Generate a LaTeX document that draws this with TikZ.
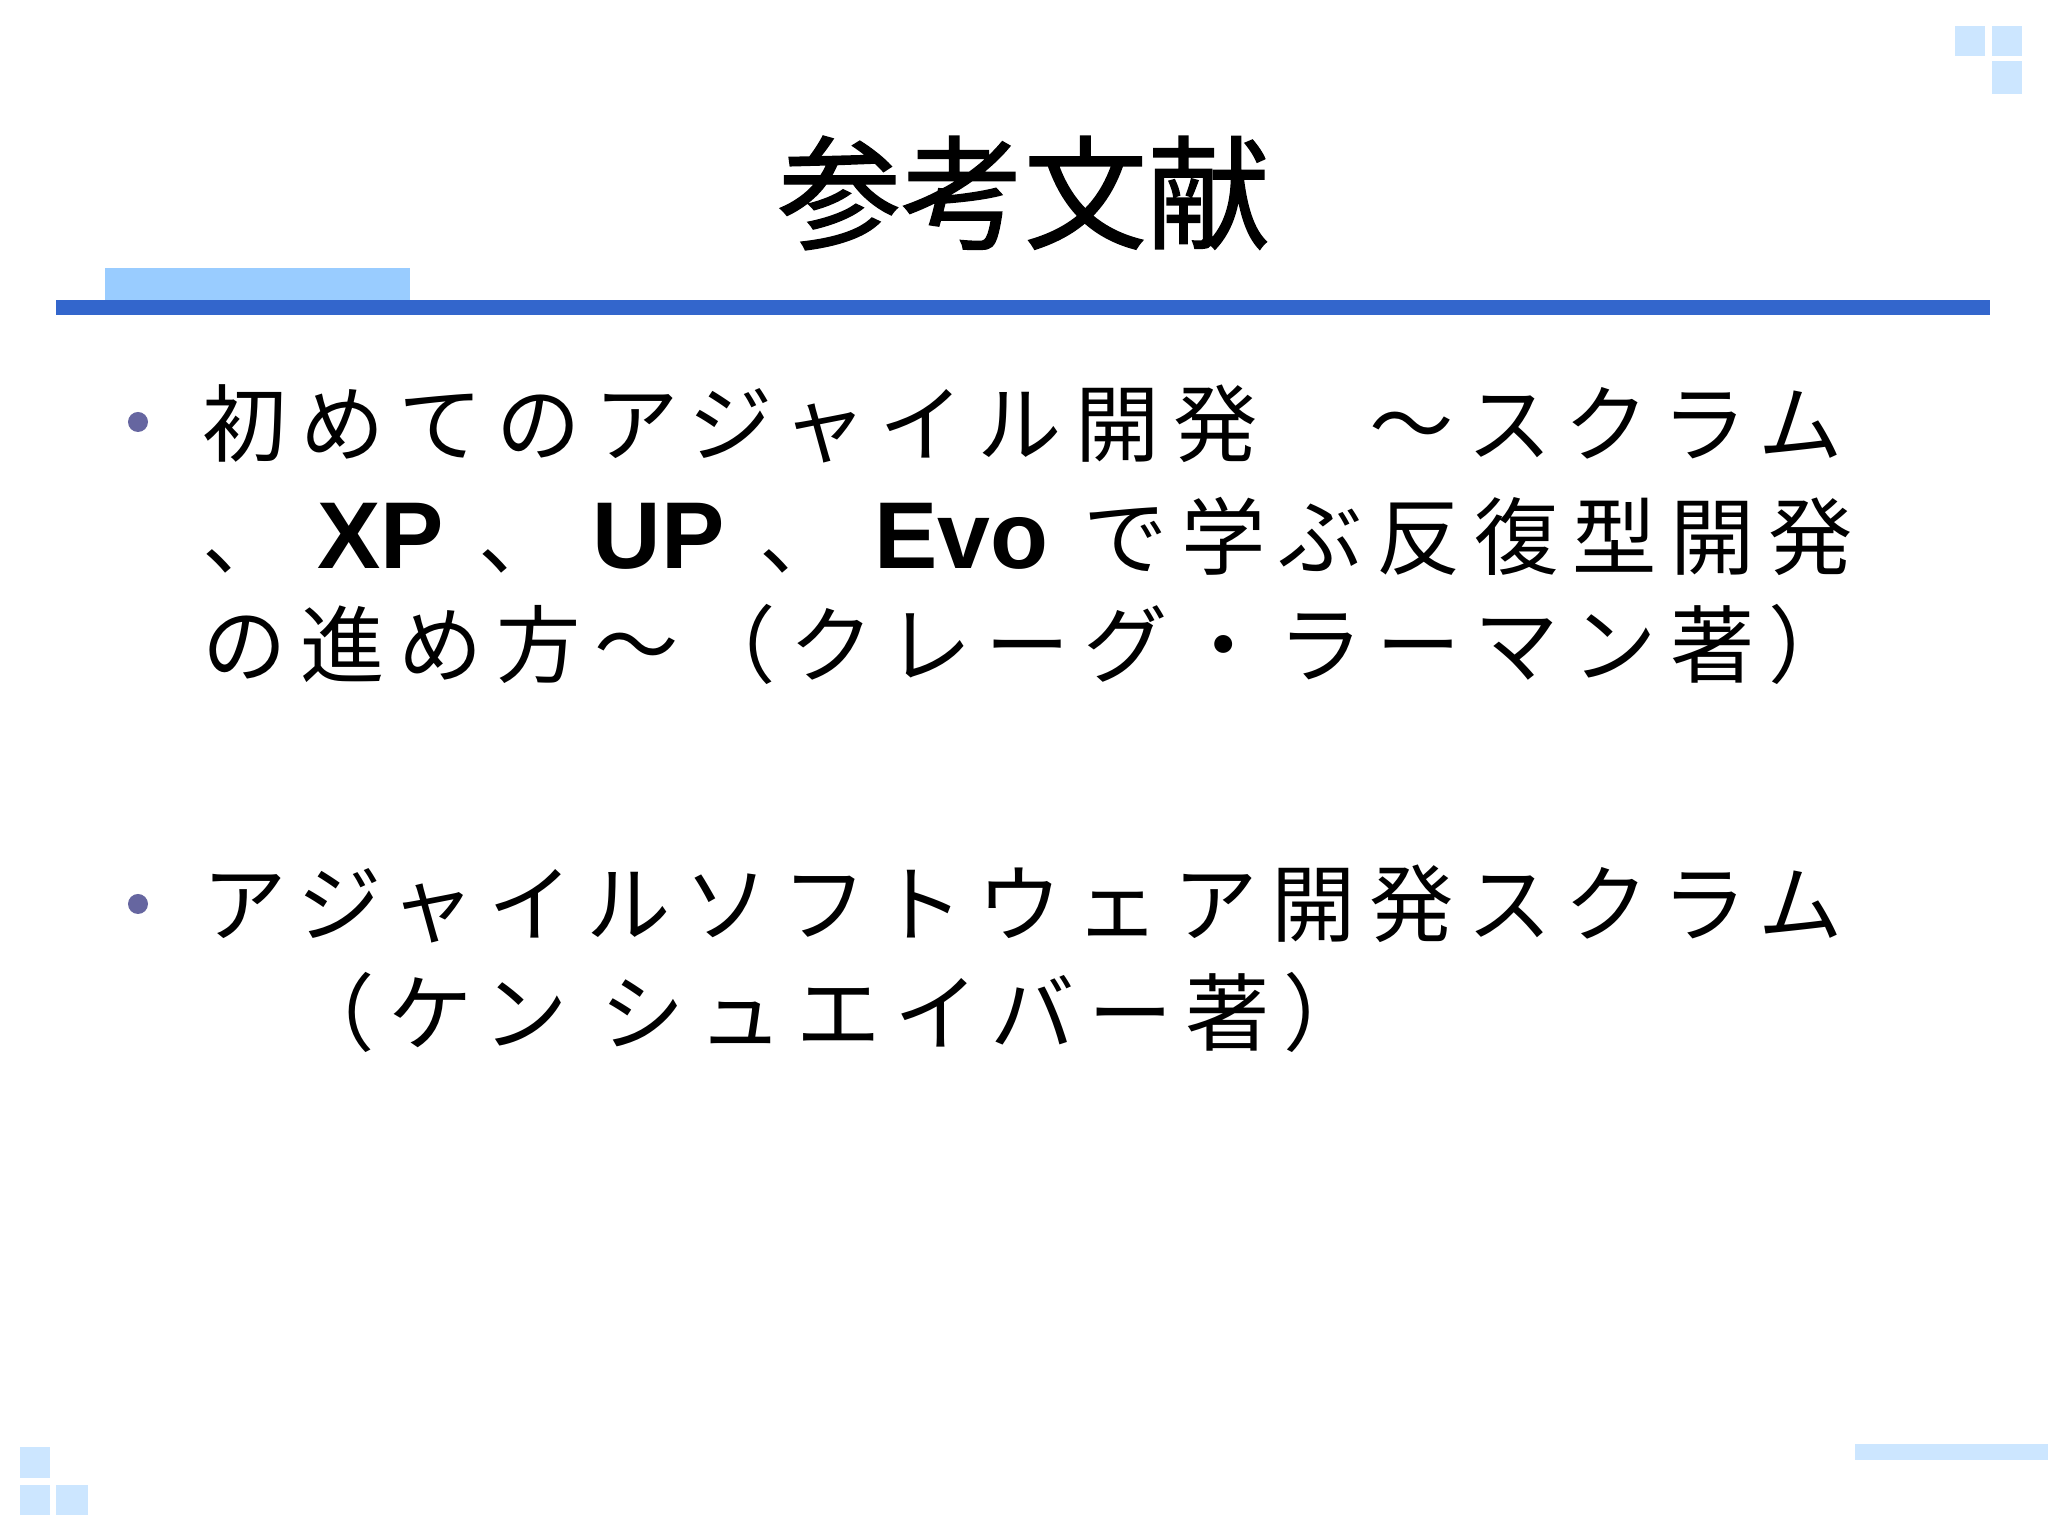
\documentclass[tikz,border=0pt]{standalone}
\usepackage{fontspec}
\newfontfamily\jp{Noto Sans CJK JP}[LetterSpace=16]
\newfontfamily\jpt{Noto Sans CJK JP}[FakeBold=1.2]
\newfontfamily\lat{Liberation Sans}
\definecolor{bar}{HTML}{3366CC}
\definecolor{lbar}{HTML}{99CCFF}
\definecolor{sq}{HTML}{CCE6FF}
\definecolor{bul}{HTML}{6666A0}
\newcommand{\lw}[1]{\hspace{0.3cm}{\lat\bfseries\fontsize{27pt}{30pt}\selectfont #1}\hspace{0.35cm}}
\tikzset{ln/.style={anchor=west,inner sep=0pt,font=\jp\fontsize{24pt}{28pt}\selectfont}}
\begin{document}
\begin{tikzpicture}
\useasboundingbox (0,0) rectangle (20.48,15.36);
\fill[white] (0,0) rectangle (20.48,15.36);
\node (title) at (10.24,13.43) {\jpt\fontsize{35pt}{40pt}\selectfont 参考文献};
\fill[lbar] (1.045,12.36) rectangle (4.10,12.68);
\fill[bar] (0.56,12.21) rectangle (19.90,12.36);
\fill[sq] (19.55,14.80) rectangle (19.85,15.10);
\fill[sq] (19.92,14.80) rectangle (20.22,15.10);
\fill[sq] (19.92,14.42) rectangle (20.22,14.75);
\fill[sq] (0.20,0.58) rectangle (0.50,0.89);
\fill[sq] (0.20,0.21) rectangle (0.50,0.51);
\fill[sq] (0.56,0.21) rectangle (0.875,0.51);
\fill[sq] (18.55,0.76) rectangle (20.48,0.916);
\fill[bul] (1.38,11.14) circle (0.1);
\fill[bul] (1.38,6.32) circle (0.1);
\node[ln] (l1) at (2.02,11.12) {初めてのアジャイル開発　～スクラム};
\node[ln] (l2) at (2.02,10.0) {、\lw{XP}、\lw{UP}、\lw{Evo}で学ぶ反復型開発};
\node[ln] (l3) at (2.02,8.92) {の進め方～（クレーグ・ラーマン著）};
\node[ln] (l4) at (2.02,6.32) {アジャイルソフトウェア開発スクラム};
\node[ln] (l5) at (2.90,5.24) {（ケン シュエイバー著）};
\end{tikzpicture}
\end{document}
